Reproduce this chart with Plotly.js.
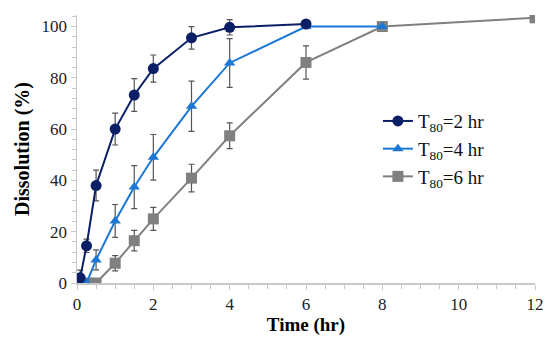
<!DOCTYPE html>
<html><head><meta charset="utf-8">
<script src="https://cdn.plot.ly/plotly-3.0.1.min.js"></script>
<style>html,body{margin:0;padding:0;background:#fff}#c{width:550px;height:342px}</style>
</head><body><div id="c"></div>
<script>
const t2 = [0.083, 0.25, 0.5, 1, 1.5, 2, 3, 4, 6];
const v2 = [2, 14.5, 38, 60, 73.3, 83.6, 95.6, 99.7, 101];
const e2 = [3, 2.6, 6, 6.2, 6.4, 5.3, 4.4, 3, 1];
const t4 = [0, 0.25, 0.5, 1, 1.5, 2, 3, 4, 6, 8];
const v4 = [0, 0, 9, 24.2, 37.4, 49, 68.9, 85.8, 100, 100];
const e4 = [0, 0, 3.9, 6.4, 8.4, 8.9, 9.8, 9.5, 0.8, 0];
const t6 = [0, 0.25, 0.5, 1, 1.5, 2, 3, 4, 6, 8, 12];
const v6 = [0, 0, 0, 7.7, 16.5, 25, 40.9, 57.4, 86, 100, 103.4];
const e6 = [0, 0, 0, 3, 4, 4.5, 5.4, 5, 6.5, 0, 0];
const names = ['T<sub>80</sub>=2 hr', 'T<sub>80</sub>=4 hr', 'T<sub>80</sub>=6 hr'];
const colors = ['#0b1f66', '#1c78d4', '#808080'];
const symbols = ['circle', 'triangle-up', 'square'];
const sizes = [11, 10, 11];
const xs = [t2, t4, t6], ys = [v2, v4, v6], es = [e2, e4, e6];
const order = [2, 1, 0];
const FONT = 'Liberation Serif';
const data = order.map(i => ({
  x: xs[i], y: ys[i], name: names[i], type: 'scatter', mode: 'lines+markers',
  line: {color: colors[i], width: 2},
  marker: {symbol: symbols[i], size: sizes[i], color: colors[i]},
  error_y: {type: 'data', array: es[i], visible: true, color: '#555555', thickness: 1.2, width: 3}
}));
const layout = {
  width: 550, height: 342,
  margin: {l: 77, r: 15, t: 15, b: 59},
  paper_bgcolor: '#fff', plot_bgcolor: '#fff',
  font: {family: FONT, color: '#222', size: 17},
  showlegend: true,
  legend: {x: 0.657, y: 0.675, xanchor: 'left', yanchor: 'top', traceorder: 'reversed',
    font: {family: FONT, size: 19, color: '#111'}, bgcolor: 'rgba(0,0,0,0)', itemwidth: 30, tracegroupgap: 0},
  xaxis: {range: [0, 12], tickvals: [0, 2, 4, 6, 8, 10, 12], showgrid: false, zeroline: false,
    showline: true, linecolor: '#c8c8c8', linewidth: 1.5, ticks: 'outside', ticklen: 5, tickcolor: '#c8c8c8',
    minor: {dtick: 0.5, ticks: 'outside', ticklen: 4, tickcolor: '#c8c8c8', showgrid: false},
    tickfont: {family: FONT, size: 17, color: '#222'},
    title: {text: '<b>Time (hr)</b>', font: {family: FONT, size: 19, color: '#000'}, standoff: 2}},
  yaxis: {range: [0, 104.5], tickvals: [0, 20, 40, 60, 80, 100], showgrid: false, zeroline: false,
    showline: true, linecolor: '#c8c8c8', linewidth: 1.5, ticks: 'outside', ticklen: 5, tickcolor: '#c8c8c8',
    minor: {dtick: 4, ticks: 'outside', ticklen: 4, tickcolor: '#c8c8c8', showgrid: false},
    tickfont: {family: FONT, size: 17, color: '#222'},
    title: {text: '<b>Dissolution (%)</b>', font: {family: FONT, size: 20, color: '#000'}, standoff: 6}}
};
Plotly.newPlot('c', data, layout, {displayModeBar: false, staticPlot: true});
</script></body></html>
